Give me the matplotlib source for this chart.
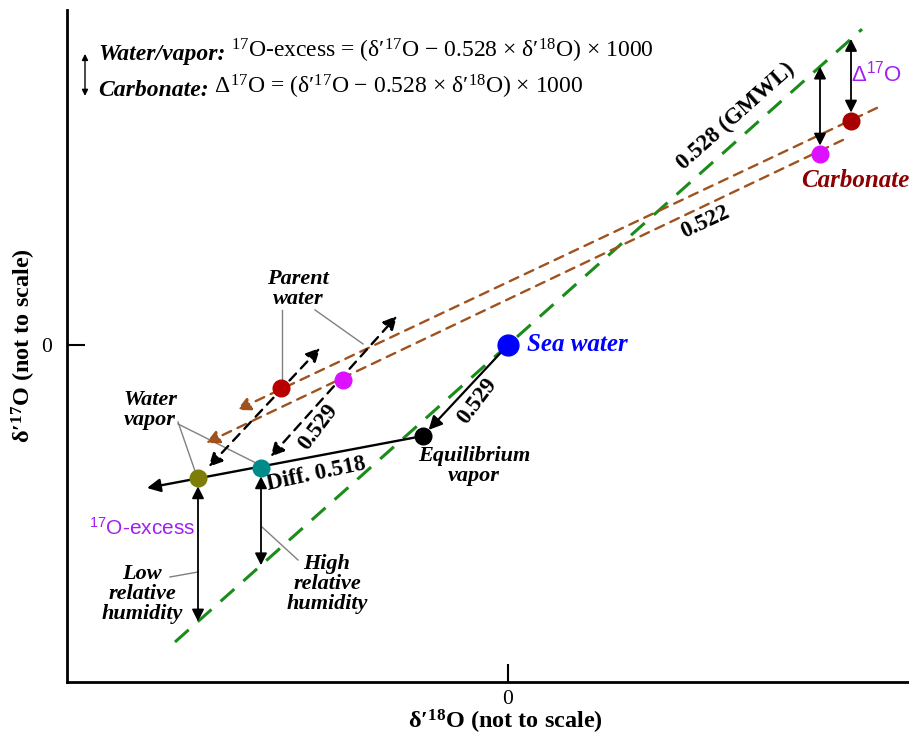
import matplotlib.pyplot as plt
import numpy as np

plt.rcParams['font.family'] = ['Liberation Serif', 'DejaVu Serif']
plt.rcParams['mathtext.fontset'] = 'custom'
plt.rcParams['mathtext.rm'] = 'Liberation Serif'
plt.rcParams['mathtext.it'] = 'Liberation Serif:italic'
plt.rcParams['mathtext.bf'] = 'Liberation Serif:bold'
plt.rcParams['mathtext.sf'] = 'Liberation Sans'

# schematic triple oxygen isotope space (arbitrary units, origin = sea water)
gmwl_slope = 0.528 / 0.592          # drawn slope of the 0.528 reference line
gmwl_x = [-33.3, 35.4]

sea_water = (0.0, 0.0)
eq_vapor = (-8.5, -9.1)
vapor_high_rh = (-24.7, -12.3)
vapor_low_rh = (-31.0, -13.3)
parent_red = (-22.7, -4.3)
parent_mag = (-16.5, -3.5)
carb_red = (34.3, 22.4)
carb_mag = (31.2, 19.1)

# carbonate lines (0.522), endpoints of the dashed segments
carb_line_red = ([36.9, -27.1], [23.7, -6.5])
carb_line_mag = ([33.5, -30.2], [20.5, -9.8])

# kinetic (diffusive) trajectory and the 0.529 evaporation lines
diff_end = (-36.1, -14.3)
evap_red = ((-30.5, -12.8), (-18.8, -0.3))
evap_mag = ((-24.3, -11.8), (-11.1, 2.9))

fig = plt.figure(figsize=(9.09, 7.37), dpi=100)
ax = fig.add_axes([0.0737, 0.0746, 0.9263, 0.912])
ax.set_xlim(-44.1, 40.1)
ax.set_ylim(-33.7, 33.5)
for s in ['top', 'right']:
    ax.spines[s].set_visible(False)
for s in ['left', 'bottom']:
    ax.spines[s].set_linewidth(2)
ax.set_xticks([0])
ax.set_yticks([0])
ax.tick_params(direction='in', length=13, width=1.5, labelsize=15.5)
ax.tick_params(axis='x', pad=6)
ax.tick_params(axis='y', pad=11)
ax.set_xlabel("δ′$^{\\mathbf{18}}$O (not to scale)", fontsize=17.5, fontweight='bold')
ax.set_ylabel("δ′$^{\\mathbf{17}}$O (not to scale)", fontsize=17.5, fontweight='bold')
ax.xaxis.set_label_coords(0.521, -0.038)
ax.yaxis.set_label_coords(-0.034, 0.5)

def gmwl(x):
    return gmwl_slope * np.asarray(x)

# GMWL
ax.plot(gmwl_x, gmwl(gmwl_x), color='#1a8c1a', lw=2.2, ls=(0, (6, 4)), zorder=2)

# carbonate lines with arrows pointing down-left
brown = '#a0521e'
for xs, ys in [carb_line_red, carb_line_mag]:
    ax.annotate('', xy=(xs[1], ys[1]), xytext=(xs[0], ys[0]),
                arrowprops=dict(arrowstyle='-|>', color=brown, lw=1.7, ls=(0, (4, 3)),
                                mutation_scale=20, shrinkA=0, shrinkB=0), zorder=2)

# evaporation lines (black dashed, double headed)
for a, b in [evap_red, evap_mag]:
    ax.annotate('', xy=b, xytext=a,
                arrowprops=dict(arrowstyle='<|-|>', color='black', lw=1.7, ls=(0, (4, 3)),
                                mutation_scale=20, shrinkA=6, shrinkB=0), zorder=3)

# sea water -> equilibrium vapor
ax.annotate('', xy=eq_vapor, xytext=sea_water,
            arrowprops=dict(arrowstyle='-|>', color='black', lw=1.6,
                            mutation_scale=20, shrinkA=8, shrinkB=6), zorder=3)
# diffusive fractionation line
ax.annotate('', xy=diff_end, xytext=eq_vapor,
            arrowprops=dict(arrowstyle='-|>', color='black', lw=1.7,
                            mutation_scale=20, shrinkA=0, shrinkB=0), zorder=3)

# excess arrows between points and the GMWL
for p in [vapor_low_rh, vapor_high_rh, carb_mag, carb_red]:
    ax.annotate('', xy=(p[0], gmwl(p[0])), xytext=p,
                arrowprops=dict(arrowstyle='<|-|>', color='black', lw=1.3,
                                mutation_scale=18, shrinkA=6, shrinkB=0), zorder=3)

# points
pts = [(eq_vapor, 'black'), (vapor_high_rh, '#008b8b'), (vapor_low_rh, '#7d7d0a'),
       (parent_red, '#b80000'), (parent_mag, '#dd11ff'),
       (carb_red, '#a80000'), (carb_mag, '#dd11ff')]
for (x, y), c in pts:
    ax.plot(x, y, 'o', color=c, ms=12, zorder=5)
ax.plot(*sea_water, 'o', color='#0000ff', ms=15, zorder=5)

# leader lines
lead = dict(color='#808080', lw=1, zorder=1)
ax.plot([-22.6, -22.6], [3.5, -3.6], **lead)
ax.plot([-19.3, -14.5], [3.5, 0.1], **lead)
ax.plot([-33.0, -31.3], [-7.7, -12.6], **lead)
ax.plot([-33.0, -25.2], [-7.9, -11.8], **lead)
ax.plot([-33.8, -31.0], [-23.2, -22.7], **lead)
ax.plot([-24.6, -21.0], [-18.2, -21.5], **lead)

bi = dict(fontweight='bold', fontstyle='italic', ha='center', va='center')
ax.text(sea_water[0] + 1.9, 0, 'Sea water', color='#0000ff', fontsize=18,
        fontweight='bold', fontstyle='italic', ha='left', va='center')
ax.text(-3.4, -12.1, 'Equilibrium\nvapor', fontsize=16, linespacing=1.0, **bi)
ax.text(-21.0, 5.6, 'Parent\nwater', fontsize=16, linespacing=1.0, **bi)
ax.text(-35.8, -6.5, 'Water\nvapor', fontsize=16, linespacing=1.0, **bi)
ax.text(-18.1, -23.9, 'High\nrelative\nhumidity', fontsize=16, linespacing=1.0, **bi)
ax.text(-36.6, -24.9, 'Low\nrelative\nhumidity', fontsize=16, linespacing=1.0, **bi)
ax.text(34.7, 16.4, 'Carbonate', color='#8b0000', fontsize=18, **bi)

ax.text(-36.6, -18.3, '$\\mathsf{^{17}}$O-excess', color='#a020f0', fontsize=15,
        family='Liberation Sans', ha='center', va='center')
ax.text(36.9, 27.1, 'Δ$\\mathsf{^{17}}$O', color='#a020f0', fontsize=16,
        family='Liberation Sans', ha='center', va='center')

bold = dict(fontweight='bold', ha='center', va='center')
ax.text(22.8, 22.9, '0.528 (GMWL)', fontsize=16.5, rotation=41.7, **bold)
ax.text(19.7, 12.3, '0.522', fontsize=16.5, rotation=25, **bold)
ax.text(-3.1, -5.6, '0.529', fontsize=16.5, rotation=53, **bold)
ax.text(-19.0, -8.2, '0.529', fontsize=16.5, rotation=53, **bold)
ax.text(-19.2, -12.9, 'Diff. 0.518', fontsize=16.5, rotation=12, **bold)

# header with the two definitions
ax.annotate('', xy=(-42.3, 29.1), xytext=(-42.3, 24.9),
            arrowprops=dict(arrowstyle='<|-|>', color='black', lw=1.0,
                            mutation_scale=9, shrinkA=0, shrinkB=0))
t1 = ax.text(-41.0, 29.0, 'Water/vapor:', fontsize=17, fontweight='bold',
             fontstyle='italic', ha='left', va='center')
ax.annotate(' $^{17}$O-excess = (δ′$^{17}$O − 0.528 × δ′$^{18}$O) × 1000',
            xy=(1, 0), xycoords=t1, ha='left', va='bottom', fontsize=17)
t2 = ax.text(-41.0, 25.4, 'Carbonate:', fontsize=17, fontweight='bold',
             fontstyle='italic', ha='left', va='center')
ax.annotate(' Δ$^{17}$O = (δ′$^{17}$O − 0.528 × δ′$^{18}$O) × 1000',
            xy=(1, 0), xycoords=t2, ha='left', va='bottom', fontsize=17)

fig.savefig('out.png', dpi=100)
